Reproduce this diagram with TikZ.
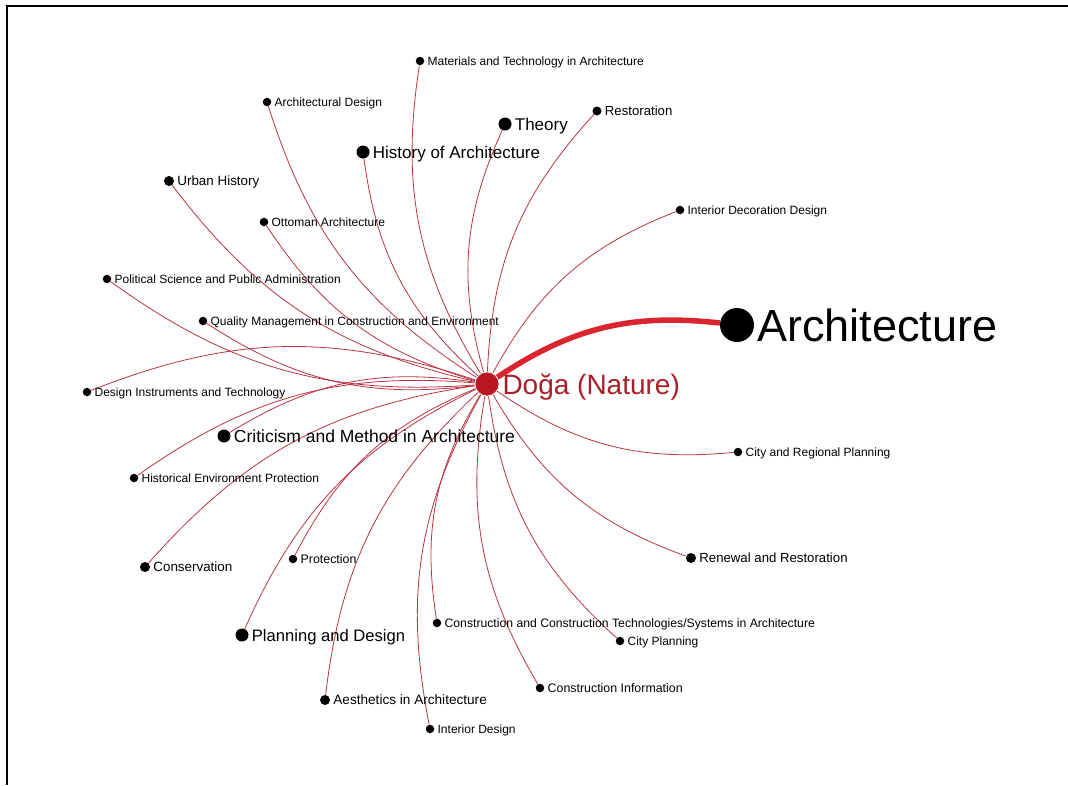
\documentclass[tikz,border=0pt]{standalone}
\usepackage{fontspec}
\setmainfont{Liberation Sans}
\usetikzlibrary{backgrounds}
\definecolor{hubred}{RGB}{185,24,34}
\definecolor{hubtext}{RGB}{168,32,42}
\definecolor{linkred}{RGB}{184,52,64}
\definecolor{strongred}{RGB}{218,36,46}

\begin{document}
\begin{tikzpicture}[x=1pt,y=-1pt,
    dot/.style={circle,fill=black,inner sep=0pt,minimum size=#1},
    tag/.style={font=\fontsize{#1}{#1}\selectfont,inner sep=0.3em,text depth=0pt},
    link/.style={draw=linkred,line width=0.8pt},
    strong/.style={draw=strongred,line width=5.5pt}]
    \useasboundingbox (0,0) rectangle (1068,785);
    \draw[line width=2pt] (7,785) -- (7,6) -- (1068,6);
    % hub
    \node[circle,fill=hubred,draw=white,line width=0.6pt,inner sep=0pt,minimum size=24pt,
        label={[tag=28,text=hubtext]right:Doğa (Nature)}] (hub) at (487,384) {};
    % name/x/y/dot size/font size/label
    \foreach \n/\x/\y/\d/\f/\t in {
        mat/420/61/8.5/12/{Materials and Technology in Architecture},
        archdes/267/102/8.5/12/{Architectural Design},
        theory/505/124/13/17/{Theory},
        resto/597/111/9/13.2/{Restoration},
        hist/363/152/13/17/{History of Architecture},
        urban/169/181/10/13.4/{Urban History},
        otto/264/222/8.5/12/{Ottoman Architecture},
        intdec/680/210/8.5/12/{Interior Decoration Design},
        polsci/107/279/8.5/12/{Political Science and Public Administration},
        quality/203/321/8.5/12/{Quality Management in Construction and Environment},
        arch/737/325/34/45/{Architecture},
        desinst/87/392/8.5/12/{Design Instruments and Technology},
        critic/224/436/13/17.5/{Criticism and Method in Architecture},
        histenv/134/478/8.5/12/{Historical Environment Protection},
        cityreg/738/452/8.5/12/{City and Regional Planning},
        conserv/145/567/10/13.4/{Conservation},
        protect/293/559/8.5/12.4/{Protection},
        renewal/691/558/10/13.2/{Renewal and Restoration},
        plandes/242/635/13/16.6/{Planning and Design},
        constech/437/623/8.5/12.2/{Construction and Construction Technologies/Systems in Architecture},
        cityplan/620/641/8.5/12/{City Planning},
        consinfo/540/688/8.5/12.4/{Construction Information},
        aesth/325/700/10/13.6/{Aesthetics in Architecture},
        intdes/430/729/8.5/12/{Interior Design}}
        \node[dot=\d pt,label={[tag=\f]right:\t}] (\n) at (\x,\y) {};
    \begin{scope}[on background layer]
        \draw[strong] (hub) to[bend left=20] (arch);
        \foreach \n/\b in {mat/20,archdes/20,theory/20,resto/20,hist/20,urban/20,otto/20,
            intdec/20,polsci/20,quality/20,desinst/-20,critic/-20,histenv/-20,cityreg/-20,
            conserv/-20,protect/-20,renewal/-20,plandes/-20,constech/-20,cityplan/-20,
            consinfo/-20,aesth/-20,intdes/-20}
            \draw[link] (hub) to[bend left=\b] (\n);
    \end{scope}
\end{tikzpicture}
\end{document}
